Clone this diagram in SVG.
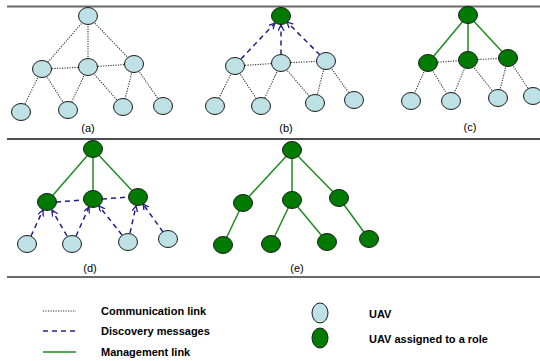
<svg xmlns="http://www.w3.org/2000/svg" width="540" height="361" viewBox="0 0 540 361">
<defs>
<marker id="arr" markerUnits="userSpaceOnUse" markerWidth="8" markerHeight="8" refX="6" refY="3" orient="auto">
<path d="M0,0 L6,3 L0,6" fill="none" stroke="#1f1f8f" stroke-width="1.3"/>
</marker>
</defs>
<style>
.u{fill:#bde1e4;stroke:#1a1a1a;stroke-width:1}
.g{fill:#007a00;stroke:#1a1a1a;stroke-width:1}
.dot{stroke:#333;stroke-width:1.1;stroke-dasharray:1.2 1.3;fill:none}
.dash{stroke:#1f1f8f;stroke-width:1.5;stroke-dasharray:5 4;fill:none}
.mg{stroke:#1e8c1e;stroke-width:1.5;fill:none}
.lbl{font-family:"Liberation Sans",Arial,sans-serif;font-size:11px;fill:#000;text-anchor:middle}
.leg{font-family:"Liberation Sans",Arial,sans-serif;font-size:11px;font-weight:bold;fill:#000}
</style>
<rect width="540" height="361" fill="#fff"/>
<g id="separators">
<line x1="7" y1="6.5" x2="540" y2="6.5" stroke="#6a6a6a" stroke-width="2"/>
<line x1="7" y1="139" x2="540" y2="139" stroke="#111" stroke-width="1.5"/>
<line x1="7" y1="277" x2="540" y2="277" stroke="#6a6a6a" stroke-width="2"/>
</g>
<g id="connectors">
<line class="dot" x1="88" y1="16" x2="42" y2="69"/>
<line class="dot" x1="88" y1="16" x2="88" y2="67"/>
<line class="dot" x1="88" y1="16" x2="134" y2="64"/>
<line class="dot" x1="42" y1="69" x2="88" y2="67"/>
<line class="dot" x1="88" y1="67" x2="134" y2="64"/>
<line class="dot" x1="42" y1="69" x2="21" y2="112"/>
<line class="dot" x1="42" y1="69" x2="68" y2="110"/>
<line class="dot" x1="88" y1="67" x2="68" y2="110"/>
<line class="dot" x1="88" y1="67" x2="123" y2="107"/>
<line class="dot" x1="134" y1="64" x2="123" y2="107"/>
<line class="dot" x1="134" y1="64" x2="163" y2="106"/>
<line class="dash" x1="241" y1="59" x2="275" y2="23" marker-end="url(#arr)"/>
<line class="dash" x1="281" y1="54.5" x2="281" y2="25" marker-end="url(#arr)"/>
<line class="dash" x1="320" y1="55" x2="287" y2="22" marker-end="url(#arr)"/>
<line class="dot" x1="235" y1="66" x2="281" y2="63"/>
<line class="dot" x1="281" y1="63" x2="326" y2="61"/>
<line class="dot" x1="235" y1="66" x2="215" y2="106"/>
<line class="dot" x1="235" y1="66" x2="261" y2="106"/>
<line class="dot" x1="281" y1="63" x2="261" y2="106"/>
<line class="dot" x1="281" y1="63" x2="315" y2="103"/>
<line class="dot" x1="326" y1="61" x2="315" y2="103"/>
<line class="dot" x1="326" y1="61" x2="354" y2="100"/>
<line class="mg" x1="468" y1="15" x2="428" y2="63"/>
<line class="mg" x1="468" y1="15" x2="468" y2="60"/>
<line class="mg" x1="468" y1="15" x2="508" y2="58"/>
<line class="dot" x1="428" y1="63" x2="468" y2="60"/>
<line class="dot" x1="468" y1="60" x2="508" y2="58"/>
<line class="dot" x1="428" y1="63" x2="411" y2="101"/>
<line class="dot" x1="428" y1="63" x2="451" y2="101"/>
<line class="dot" x1="468" y1="60" x2="451" y2="101"/>
<line class="dot" x1="468" y1="60" x2="498" y2="98"/>
<line class="dot" x1="508" y1="58" x2="498" y2="98"/>
<line class="dot" x1="508" y1="58" x2="533" y2="96"/>
<line class="mg" x1="93" y1="149" x2="47" y2="202"/>
<line class="mg" x1="93" y1="149" x2="93" y2="199"/>
<line class="mg" x1="93" y1="149" x2="138" y2="197"/>
<line class="dash" x1="56" y1="202" x2="84" y2="200"/>
<line class="dash" x1="102" y1="199" x2="129" y2="197"/>
<line class="dash" x1="31" y1="236" x2="43" y2="210" marker-end="url(#arr)"/>
<line class="dash" x1="67" y1="236" x2="52" y2="210" marker-end="url(#arr)"/>
<line class="dash" x1="76" y1="236" x2="89" y2="207" marker-end="url(#arr)"/>
<line class="dash" x1="122" y1="235" x2="99" y2="206" marker-end="url(#arr)"/>
<line class="dash" x1="130" y1="233" x2="136" y2="206" marker-end="url(#arr)"/>
<line class="dash" x1="163" y1="232" x2="143" y2="204" marker-end="url(#arr)"/>
<line class="mg" x1="292" y1="150" x2="243" y2="203"/>
<line class="mg" x1="292" y1="150" x2="292" y2="200"/>
<line class="mg" x1="292" y1="150" x2="339" y2="198"/>
<line class="mg" x1="243" y1="203" x2="223" y2="245"/>
<line class="mg" x1="292" y1="200" x2="271" y2="244"/>
<line class="mg" x1="292" y1="200" x2="327" y2="242"/>
<line class="mg" x1="339" y1="198" x2="369" y2="239"/>
</g>
<g id="panel-a">
<ellipse class="u" cx="88" cy="16" rx="9.5" ry="8.5"/>
<ellipse class="u" cx="42" cy="69" rx="9.5" ry="8.5"/>
<ellipse class="u" cx="88" cy="67" rx="9.5" ry="8.5"/>
<ellipse class="u" cx="134" cy="64" rx="9.5" ry="8.5"/>
<ellipse class="u" cx="21" cy="112" rx="9.5" ry="8.5"/>
<ellipse class="u" cx="68" cy="110" rx="9.5" ry="8.5"/>
<ellipse class="u" cx="123" cy="107" rx="9.5" ry="8.5"/>
<ellipse class="u" cx="163" cy="106" rx="9.5" ry="8.5"/>
<text class="lbl" x="88" y="132">(a)</text>
</g>
<g id="panel-b">
<ellipse class="g" cx="281" cy="16" rx="9.5" ry="8.5"/>
<ellipse class="u" cx="235" cy="66" rx="9.5" ry="8.5"/>
<ellipse class="u" cx="281" cy="63" rx="9.5" ry="8.5"/>
<ellipse class="u" cx="326" cy="61" rx="9.5" ry="8.5"/>
<ellipse class="u" cx="215" cy="106" rx="9.5" ry="8.5"/>
<ellipse class="u" cx="261" cy="106" rx="9.5" ry="8.5"/>
<ellipse class="u" cx="315" cy="103" rx="9.5" ry="8.5"/>
<ellipse class="u" cx="354" cy="100" rx="9.5" ry="8.5"/>
<text class="lbl" x="286" y="132">(b)</text>
</g>
<g id="panel-c">
<ellipse class="g" cx="468" cy="15" rx="9.5" ry="8.5"/>
<ellipse class="g" cx="428" cy="63" rx="9.5" ry="8.5"/>
<ellipse class="g" cx="468" cy="60" rx="9.5" ry="8.5"/>
<ellipse class="g" cx="508" cy="58" rx="9.5" ry="8.5"/>
<ellipse class="u" cx="411" cy="101" rx="9.5" ry="8.5"/>
<ellipse class="u" cx="451" cy="101" rx="9.5" ry="8.5"/>
<ellipse class="u" cx="498" cy="98" rx="9.5" ry="8.5"/>
<ellipse class="u" cx="533" cy="96" rx="9.5" ry="8.5"/>
<text class="lbl" x="470" y="131">(c)</text>
</g>
<g id="panel-d">
<ellipse class="g" cx="93" cy="149" rx="9.5" ry="8.5"/>
<ellipse class="g" cx="47" cy="202" rx="9.5" ry="8.5"/>
<ellipse class="g" cx="93" cy="199" rx="9.5" ry="8.5"/>
<ellipse class="g" cx="138" cy="197" rx="9.5" ry="8.5"/>
<ellipse class="u" cx="27" cy="244" rx="9.5" ry="8.5"/>
<ellipse class="u" cx="72" cy="244" rx="9.5" ry="8.5"/>
<ellipse class="u" cx="128" cy="242" rx="9.5" ry="8.5"/>
<ellipse class="u" cx="168" cy="239" rx="9.5" ry="8.5"/>
<text class="lbl" x="90" y="272">(d)</text>
</g>
<g id="panel-e">
<ellipse class="g" cx="292" cy="150" rx="9.5" ry="8.5"/>
<ellipse class="g" cx="243" cy="203" rx="9.5" ry="8.5"/>
<ellipse class="g" cx="292" cy="200" rx="9.5" ry="8.5"/>
<ellipse class="g" cx="339" cy="198" rx="9.5" ry="8.5"/>
<ellipse class="g" cx="223" cy="245" rx="9.5" ry="8.5"/>
<ellipse class="g" cx="271" cy="244" rx="9.5" ry="8.5"/>
<ellipse class="g" cx="327" cy="242" rx="9.5" ry="8.5"/>
<ellipse class="g" cx="369" cy="239" rx="9.5" ry="8.5"/>
<text class="lbl" x="297" y="272">(e)</text>
</g>
<g id="legend">
<line class="dot" x1="43" y1="311" x2="76" y2="311"/>
<text class="leg" x="101" y="315">Communication link</text>
<line class="dash" x1="43" y1="331" x2="76" y2="331"/>
<text class="leg" x="101" y="335">Discovery messages</text>
<line class="mg" x1="43" y1="352" x2="76" y2="352"/>
<text class="leg" x="101" y="356">Management link</text>
<ellipse class="u" cx="320" cy="313" rx="8" ry="10"/>
<text class="leg" x="369" y="318">UAV</text>
<ellipse class="g" cx="320" cy="338" rx="8" ry="10"/>
<text class="leg" x="369" y="343">UAV assigned to a role</text>
</g>
</svg>
